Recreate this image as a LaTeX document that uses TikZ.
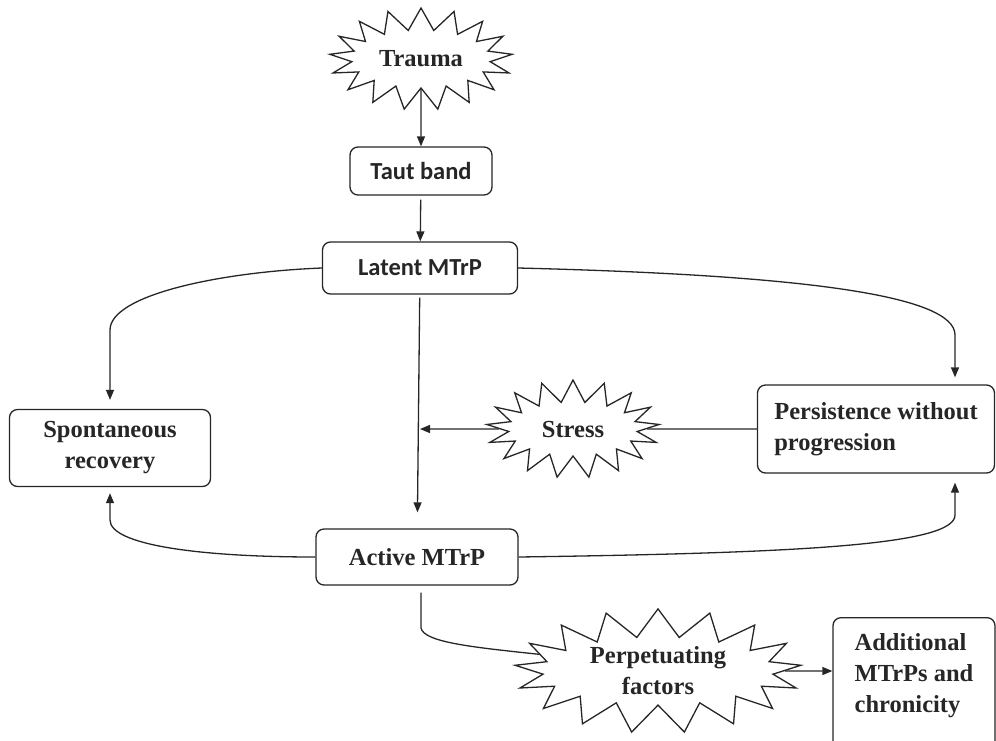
\documentclass[tikz,border=0pt]{standalone}
\usepackage{fontspec}
\setmainfont{Liberation Serif}
\newfontfamily\calib{Carlito}
\usetikzlibrary{arrows.meta,positioning,calc,shapes.symbols}
\definecolor{ink}{HTML}{262626}
\tikzset{
  box/.style={draw=ink,line width=1.3pt,rounded corners=8pt,align=center,inner sep=4pt,fill=white,text=ink,font=\fontsize{24.5}{31}\selectfont\bfseries},
  sansbox/.style={box,font=\calib\fontsize{24.5}{28}\selectfont\bfseries},
  burst/.style={starburst,starburst points=17,random starburst=0,starburst point height=22pt,draw=ink,line width=1.3pt,fill=white,inner sep=0pt,align=center,text=ink,font=\fontsize{24.5}{31}\selectfont\bfseries},
  arr/.style={-{Triangle[length=10pt,width=8pt]},line width=1.3pt,draw=ink},
  link/.style={line width=1.3pt,draw=ink}
}
\begin{document}
\begin{tikzpicture}[x=1pt,y=-1pt]
\useasboundingbox (0,0) rectangle (996,740);
% top chain
\node[burst,minimum width=183pt,minimum height=102pt] (trauma) at (421,59) {Trauma};
\node[sansbox,minimum width=142pt,minimum height=48pt] (taut) at (421,171) {Taut band};
\node[sansbox,minimum width=195pt,minimum height=52pt] (latent) at (420,268) {Latent MTrP};
% middle row
\node[box,minimum width=201pt,minimum height=77pt] (spont) at (110,448) {Spontaneous\\recovery};
\node[burst,minimum width=173pt,minimum height=98pt] (stress) at (573,429) {Stress};
\node[box,align=left,minimum width=237pt,minimum height=88pt] (persist) at (876,429) {Persistence without\\progression};
\node[box,minimum width=202pt,minimum height=56pt] (active) at (417,557) {Active MTrP};
% bottom row
\node[burst,starburst point height=28pt,minimum width=287pt,minimum height=123pt] (perp) at (658,671) {Perpetuating\\factors};
\node[box,align=left,anchor=north,minimum width=162pt,inner ysep=16pt,text depth=70pt] (add) at (914,617) {Additional\\MTrPs and\\chronicity};
\coordinate (junc) at (latent.south |- stress);
\draw[arr] (trauma) -- (taut);
\draw[arr,shorten <=4pt] (taut) -- (latent);
\draw[arr,shorten <=3pt,shorten >=16pt] (latent) -- (active);
\draw[arr] (stress) -- (junc);
\draw[link] (persist) -- (stress);
\draw[arr,shorten >=9pt] (latent.west) .. controls (220,272) and (110,295) .. (110,330) -- (spont.north);
\draw[arr,shorten >=7pt] (latent.east) .. controls (800,275) and (955,295) .. (955,335) -- ([xshift=79pt]persist.north);
\draw[arr,shorten >=6pt] (active.west) .. controls (200,557) and (110,545) .. (110,520) -- (spont.south);
\draw[arr,shorten >=9pt] (active.east) .. controls (800,553) and (955,545) .. (955,515) -- ([xshift=79pt]persist.south);
\draw[link,shorten <=7pt] (active.south -| 421,0) -- (421,628) .. controls (424,642) and (470,647) .. (perp.172);
\draw[arr] (perp) -- (perp -| add.west);
\end{tikzpicture}
\end{document}
